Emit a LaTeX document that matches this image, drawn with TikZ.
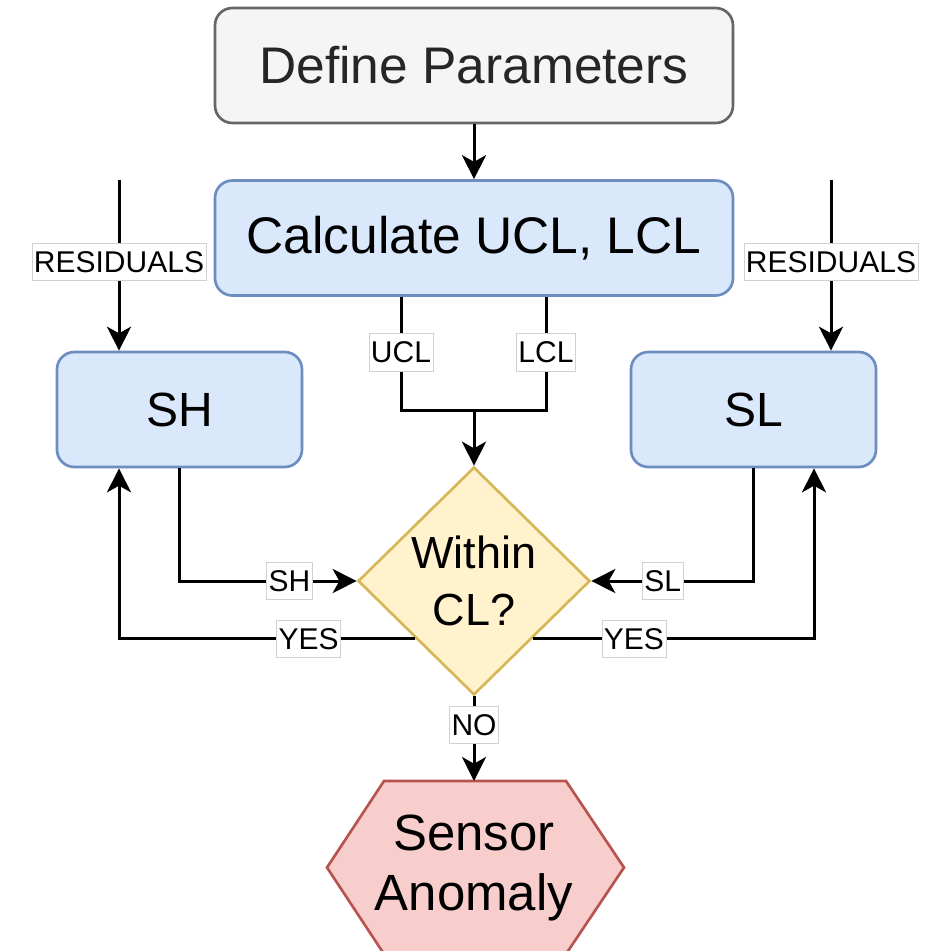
\documentclass[tikz,border=0pt]{standalone}
\usepackage{fontspec}
\setmainfont{Liberation Sans}
\usepackage{tikz}
\usetikzlibrary{arrows.meta}
\usetikzlibrary{shapes.geometric}
\usetikzlibrary{calc}

\definecolor{graybg}{RGB}{245,245,245}
\definecolor{grayline}{RGB}{102,102,102}
\definecolor{bluebg}{RGB}{218,232,252}
\definecolor{blueline}{RGB}{108,142,191}
\definecolor{yellowbg}{RGB}{255,242,204}
\definecolor{yellowline}{RGB}{214,182,86}
\definecolor{redbg}{RGB}{248,206,204}
\definecolor{redline}{RGB}{184,84,80}

\begin{document}
\begin{tikzpicture}[x=0.75pt,y=0.75pt,yscale=-1,xscale=1,
  wire/.style={line width=2.25pt},
  conn/.style={wire,-{Stealth[length=18pt,width=18pt,inset=5pt]}},
  lbl/.style={fill=white,draw=black!18,line width=0.6pt,inner xsep=1.5pt,inner ysep=0pt,
    minimum height=28pt,font=\fontsize{22.5}{27}\selectfont},
  widebox/.style={rectangle,rounded corners=13pt,line width=2pt,minimum width=388.5pt,
    minimum height=86.25pt,font=\fontsize{38.6}{46}\selectfont},
  sidebox/.style={rectangle,rounded corners=13pt,line width=2pt,draw=blueline,fill=bluebg,
    minimum width=183.75pt,minimum height=86.25pt,font=\fontsize{36}{43}\selectfont}]
\useasboundingbox (0,0) rectangle (944,951);

%Shape: Rounded Rect [id:define]
\node[widebox,draw=grayline,fill=graybg,text=black!85] (define) at (474,65.5) {Define Parameters};
%Shape: Rounded Rect [id:calc]
\node[widebox,draw=blueline,fill=bluebg] (calc) at (474,238) {Calculate UCL, LCL};
%Shape: Rounded Rect [id:sh]
\node[sidebox] (sh) at (179.5,409.5) {SH};
%Shape: Rounded Rect [id:sl]
\node[sidebox] (sl) at (753.5,409.5) {SL};
%Shape: Diamond [id:dia]
\node[diamond,draw=yellowline,fill=yellowbg,line width=2pt,inner sep=0pt,
  minimum width=174pt,minimum height=171pt,align=center,
  font=\fontsize{33.75}{42.75}\selectfont] (dia) at (474,581) {Within\\CL?};

%Shape: Hexagon [id:anomaly]
\draw[draw=redline,fill=redbg,line width=2pt] (384,781) -- (566,781) -- (624,867.5) -- (566,954) -- (384,954) -- (327,867.5) -- cycle;
\node[align=center,font=\fontsize{38.2}{45}\selectfont] (anomaly) at (474,867.5) {Sensor\\Anomaly};
\coordinate (hextop) at (474,781);

%Connectors
\coordinate (resL) at (119,180);
\coordinate (resR) at (831,180);
\coordinate (merge) at (474,410);

\draw[conn] (define) -- (calc);
\draw[conn] (resL) -- node[lbl,pos=0.48] (resl) {RESIDUALS} (resL |- sh.north);
\draw[conn] (resR) -- node[lbl,pos=0.48] (resr) {RESIDUALS} (resR |- sl.north);

\draw[wire] ($(calc.south)+(-73,0)$) |- node[lbl,pos=0.245] (ucl) {UCL} (merge);
\draw[wire] ($(calc.south)+(72,0)$) |- node[lbl,pos=0.245] (lcl) {LCL} (merge);
\draw[conn] (merge) -- (dia.north);

\draw[conn] (sh.south) |- node[lbl,pos=0.81] (shl) {SH} (dia.west);
\draw[conn] (sl.south) |- node[lbl,pos=0.78] (sll) {SL} (dia.east);

\draw[conn] (dia.south west) -| node[lbl,pos=0.18] (yesl) {YES} (resL |- sh.south);
\draw[conn] (dia.south east) -| node[lbl,pos=0.18] (yesr) {YES} ($(sl.south)+(60.5,0)$);

\draw[conn] (dia.south) -- node[lbl,pos=0.34] (no) {NO} (hextop);

\end{tikzpicture}
\end{document}
